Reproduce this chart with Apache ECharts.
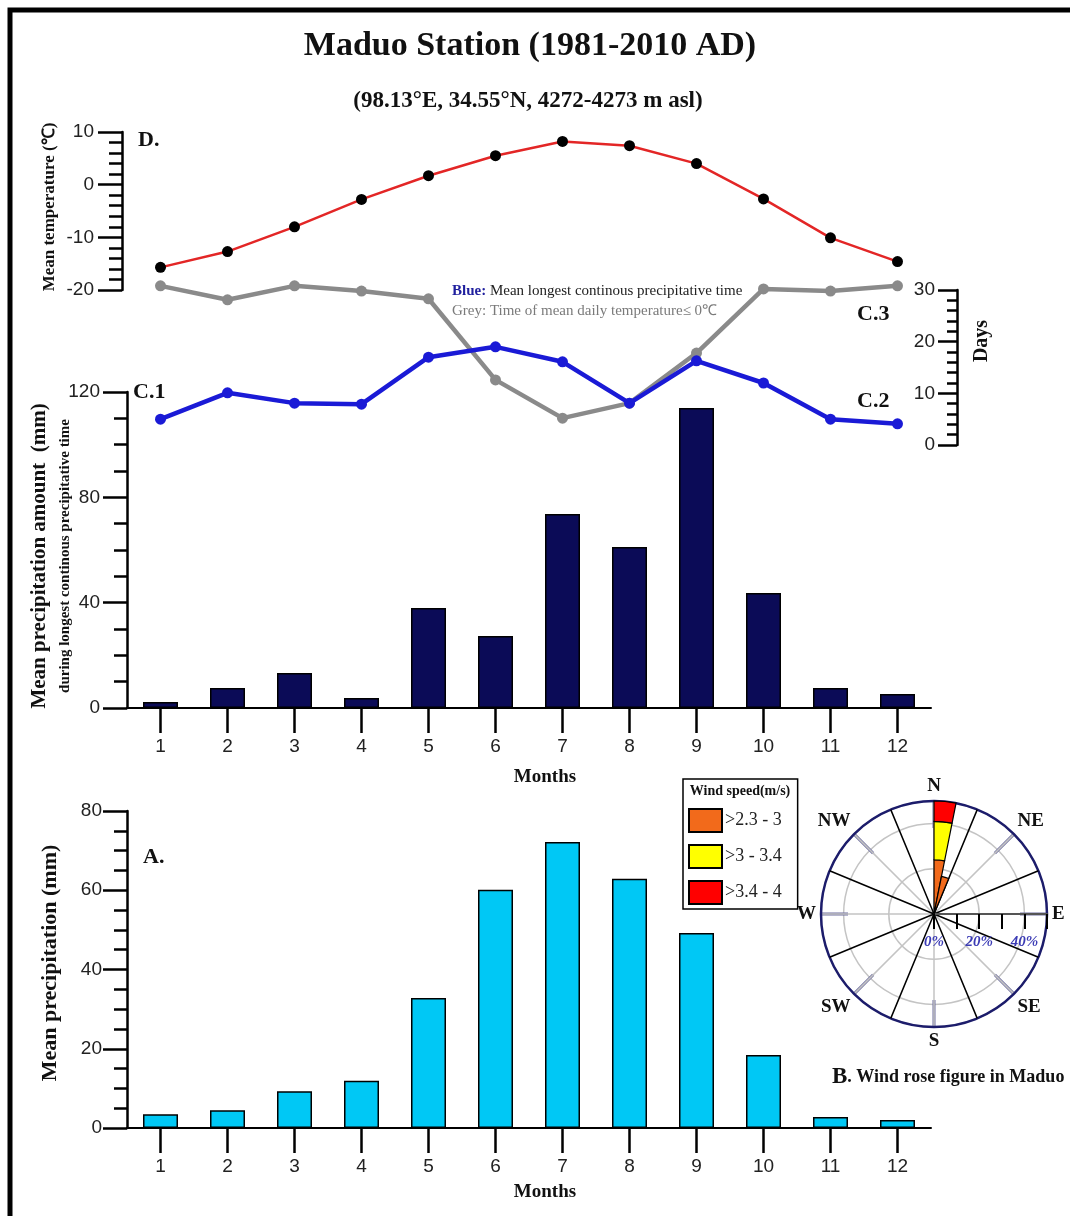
<!DOCTYPE html>
<html>
<head>
<meta charset="utf-8">
<script src="https://cdn.jsdelivr.net/npm/echarts@6/dist/echarts.min.js"></script>
<style>
html,body{margin:0;padding:0;background:#fff;}
#chart{width:1070px;height:1216px;}
</style>
</head>
<body>
<div id="chart"></div>
<script>
// ---------- DATA ----------
const months = ['1','2','3','4','5','6','7','8','9','10','11','12'];
const tempMean = [-15.7, -12.7, -8.0, -2.8, 1.7, 5.5, 8.2, 7.4, 4.0, -2.7, -10.1, -14.6];       // D (°C)
const daysBelowZero = [30.8, 28.1, 30.8, 29.8, 28.3, 12.6, 5.2, 8.1, 17.8, 30.2, 29.8, 30.8];  // C.3 grey (days)
const longestPrecipDays = [5.0, 10.1, 8.1, 7.9, 17.0, 19.0, 16.1, 8.1, 16.3, 12.0, 5.0, 4.1]; // C.2 blue (days)
const precipLongest = [2.3, 7.6, 13.3, 3.8, 38.0, 27.3, 73.7, 61.1, 113.9, 43.7, 7.6, 5.3];  // C.1 (mm)
const precipMean = [3.5, 4.5, 9.3, 11.9, 32.8, 60.1, 72.2, 62.9, 49.2, 18.4, 2.8, 2.0];      // A (mm)

const tempTicks = [-20, -10, 0, 10];
const dayTicks = [0, 10, 20, 30];
const c1Ticks = [0, 40, 80, 120];
const aTicks = [0, 20, 40, 60, 80];

// Wind rose: 32 bins of 11.25 degrees clockwise from North
const windBins = ['N','N-NNE','NNE','NNE-NE','NE','NE-ENE','ENE','ENE-E','E','E-ESE','ESE','ESE-SE','SE','SE-SSE','SSE','SSE-S',
                  'S','S-SSW','SSW','SSW-SW','SW','SW-WSW','WSW','WSW-W','W','W-WNW','WNW','WNW-NW','NW','NW-NNW','NNW','NNW-N'];
const windOrange = [24, 17, null,null,null,null,null,null,null,null,null,null,null,null,null,null,null,null,null,null,null,null,null,null,null,null,null,null,null,null,null,null];
const windYellow = [17, null,null,null,null,null,null,null,null,null,null,null,null,null,null,null,null,null,null,null,null,null,null,null,null,null,null,null,null,null,null,null];
const windRed = [9, null,null,null,null,null,null,null,null,null,null,null,null,null,null,null,null,null,null,null,null,null,null,null,null,null,null,null,null,null,null,null];
const windSpeedClasses = ['>2.3 - 3', '>3 - 3.4', '>3.4 - 4'];
const compassNames = {0:'E',45:'SE',90:'S',135:'SW',180:'W',225:'NW',270:'N',315:'NE'};
const spokeCats = ['a','b','c','d','e','f','g','h'];

// ---------- STYLE ----------
const SERIF = '"Liberation Serif","Times New Roman",serif';
const SANS = '"Liberation Sans",Arial,sans-serif';
const GL = 127, GW = 804;
const ROSE_C = [934, 914], ROSE_R = 113;

function valueY(gridIndex, min, max, interval, minorSplit, opts) {
  return Object.assign({
    type: 'value', gridIndex, min, max, interval,
    splitLine: {show: false},
    axisLine: {show: true, lineStyle: {color: '#000', width: 2.5}},
    axisTick: {show: true, length: 24, lineStyle: {color: '#000', width: 2.5}},
    minorTick: {show: true, splitNumber: minorSplit, length: 13, lineStyle: {color: '#000', width: 2.5}},
    axisLabel: {fontFamily: SANS, fontSize: 19, color: '#222', margin: 28}
  }, opts || {});
}
function catX(gridIndex, show) {
  return {
    type: 'category', gridIndex, data: months, boundaryGap: true, show: show,
    axisLine: {show: true, lineStyle: {color: '#000', width: 2}},
    axisTick: {show: true, alignWithLabel: true, length: 25, lineStyle: {color: '#000', width: 2.5}},
    axisLabel: {fontFamily: SANS, fontSize: 19, color: '#222', margin: 29},
    splitLine: {show: false}
  };
}
function gtext(x, y, text, font, opts) {
  return Object.assign({
    type: 'text', x, y, z: 100,
    style: Object.assign({text, font, fill: '#111', align: 'center', verticalAlign: 'middle'}, (opts && opts.style) || {})
  }, opts && opts.rotation !== undefined ? {rotation: opts.rotation} : {});
}

const chart = echarts.init(document.getElementById('chart'), null, {renderer: 'canvas'});

const option = {
  animation: false,
  backgroundColor: '#fff',
  grid: [
    {left: GL, top: 132, width: GW, height: 158},
    {left: GL, top: 290, width: GW, height: 155},
    {left: GL, top: 392, width: GW, height: 316},
    {left: GL, top: 811, width: GW, height: 317}
  ],
  xAxis: [catX(0, false), catX(1, false), catX(2, true), catX(3, true)],
  yAxis: [
    valueY(0, tempTicks[0], tempTicks[tempTicks.length-1], 10, 5, {offset: 5}),
    valueY(1, dayTicks[0], dayTicks[dayTicks.length-1], 10, 5, {
      position: 'right', offset: 26,
      axisTick: {show: true, inside: true, length: 19, lineStyle: {color: '#000', width: 2.5}},
      minorTick: {show: true, splitNumber: 5, length: 10, lineStyle: {color: '#000', width: 2.5}},
      axisLabel: {inside: true, fontFamily: SANS, fontSize: 19, color: '#222', margin: 22}
    }),
    valueY(2, c1Ticks[0], c1Ticks[c1Ticks.length-1], 40, 4, {axisLabel: {fontFamily: SANS, fontSize: 19, color: '#222', margin: 27}}),
    valueY(3, aTicks[0], aTicks[aTicks.length-1], 20, 4, {axisLabel: {fontFamily: SANS, fontSize: 19, color: '#222', margin: 25}})
  ],
  polar: [
    {center: ROSE_C, radius: ROSE_R},
    {center: ROSE_C, radius: ROSE_R},
    {center: ROSE_C, radius: ROSE_R}
  ],
  angleAxis: [
    {polarIndex: 0, type: 'value', min: 0, max: 360, interval: 45, startAngle: 0, clockwise: true, z: 3,
     axisLine: {show: true, lineStyle: {color: '#1c1c6b', width: 2.5}},
     axisTick: {show: true, inside: true, length: 27, lineStyle: {color: '#6f6fa0', width: 3}},
     splitLine: {show: true, lineStyle: {color: '#c4c4c4', width: 1.5}},
     axisLabel: {show: true, margin: 5, fontFamily: SERIF, fontWeight: 'bold', fontSize: 19, color: '#111',
                 formatter: v => compassNames[v] !== undefined && v !== 360 ? compassNames[v] : ''}},
    {polarIndex: 1, type: 'category', data: spokeCats, startAngle: 22.5, boundaryGap: true, z: 4,
     axisLine: {show: false}, axisTick: {show: false}, axisLabel: {show: false},
     splitLine: {show: true, lineStyle: {color: '#000', width: 1.5}}},
    {polarIndex: 2, type: 'category', data: windBins, startAngle: 90, boundaryGap: true, z: 5,
     axisLine: {show: false}, axisTick: {show: false}, axisLabel: {show: false}, splitLine: {show: false}}
  ],
  radiusAxis: [
    {polarIndex: 0, type: 'value', min: 0, max: 50, interval: 10, z: 6,
     axisLine: {show: true, lineStyle: {color: '#555', width: 2}},
     axisTick: {show: true, length: -15, lineStyle: {color: '#000', width: 2}},
     splitLine: {show: false},
     axisLabel: {show: true, margin: -36, fontFamily: SERIF, fontStyle: 'italic', fontWeight: 'bold', fontSize: 15, color: '#3b3bb5',
                 formatter: v => (v === 0 || v === 20 || v === 40) ? v + '%' : ''}},
    {polarIndex: 1, type: 'value', min: 0, max: 50, interval: 20, z: 2,
     axisLine: {show: false}, axisTick: {show: false}, axisLabel: {show: false},
     splitLine: {show: true, lineStyle: {color: '#c4c4c4', width: 1.5}}},
    {polarIndex: 2, type: 'value', min: 0, max: 50, show: false,
     axisLine: {show: false}, axisTick: {show: false}, axisLabel: {show: false}, splitLine: {show: false}}
  ],
  legend: {
    data: windSpeedClasses,
    left: 683, top: 779, orient: 'vertical',
    padding: [29, 16, 4, 5], itemGap: 11, itemWidth: 33, itemHeight: 23, icon: 'rect',
    borderColor: '#000', borderWidth: 1.5, backgroundColor: '#fff',
    itemStyle: {borderColor: '#000', borderWidth: 2},
    textStyle: {fontFamily: SERIF, fontSize: 18, color: '#222', padding: [0, 0, 0, -2]},
    selectedMode: false
  },
  series: [
    {name: 'Mean temperature', type: 'line', xAxisIndex: 0, yAxisIndex: 0, data: tempMean,
     symbol: 'circle', symbolSize: 11, itemStyle: {color: '#000'}, lineStyle: {color: '#e32626', width: 2.5}, z: 5},
    {name: 'Grey', type: 'line', xAxisIndex: 1, yAxisIndex: 1, data: daysBelowZero, clip: false,
     symbol: 'circle', symbolSize: 11, itemStyle: {color: '#8a8a8a'}, lineStyle: {color: '#8a8a8a', width: 4.5}, z: 4},
    {name: 'Blue', type: 'line', xAxisIndex: 1, yAxisIndex: 1, data: longestPrecipDays, clip: false,
     symbol: 'circle', symbolSize: 11, itemStyle: {color: '#1a1ad6'}, lineStyle: {color: '#1a1ad6', width: 4.5}, z: 5},
    {name: 'C1', type: 'bar', xAxisIndex: 2, yAxisIndex: 2, data: precipLongest, barWidth: 35,
     itemStyle: {color: '#0b0b57', borderColor: '#000', borderWidth: 1.5}},
    {name: 'A', type: 'bar', xAxisIndex: 3, yAxisIndex: 3, data: precipMean, barWidth: 35,
     itemStyle: {color: '#00c8f5', borderColor: '#000', borderWidth: 1.5}},
    {name: windSpeedClasses[0], type: 'bar', coordinateSystem: 'polar', polarIndex: 2, stack: 'wind', data: windOrange,
     barCategoryGap: '0%', z: 8, itemStyle: {color: '#f26a1b', borderColor: '#000', borderWidth: 1.2}},
    {name: windSpeedClasses[1], type: 'bar', coordinateSystem: 'polar', polarIndex: 2, stack: 'wind', data: windYellow,
     barCategoryGap: '0%', z: 8, itemStyle: {color: '#ffff00', borderColor: '#000', borderWidth: 1.2}},
    {name: windSpeedClasses[2], type: 'bar', coordinateSystem: 'polar', polarIndex: 2, stack: 'wind', data: windRed,
     barCategoryGap: '0%', z: 8, itemStyle: {color: '#ff0000', borderColor: '#000', borderWidth: 1.2}}
  ],
  graphic: [
    {type: 'rect', z: 200, shape: {x: 10, y: 10, width: 1100, height: 1250},
     style: {fill: null, stroke: '#000', lineWidth: 5}},
    gtext(530, 46, 'Maduo Station (1981-2010 AD)', 'bold 34px ' + SERIF),
    gtext(528, 101, '(98.13°E, 34.55°N, 4272-4273 m asl)', 'bold 23px ' + SERIF),
    gtext(50, 207, 'Mean temperature (℃)', 'bold 17px ' + SERIF, {rotation: Math.PI/2}),
    gtext(40, 556, 'Mean precipitation amount  (mm)', 'bold 21px ' + SERIF, {rotation: Math.PI/2}),
    gtext(65, 556, 'during longest continous precipitative time', 'bold 15px ' + SERIF, {rotation: Math.PI/2}),
    gtext(50, 963, 'Mean precipitation (mm)', 'bold 22px ' + SERIF, {rotation: Math.PI/2}),
    gtext(982, 341, 'Days', 'bold 20px ' + SERIF, {rotation: Math.PI/2}),
    gtext(545, 777, 'Months', 'bold 19px ' + SERIF),
    gtext(545, 1192, 'Months', 'bold 19px ' + SERIF),
    gtext(138, 140, 'D.', 'bold 22px ' + SERIF, {style: {align: 'left'}}),
    gtext(133, 392, 'C.1', 'bold 22px ' + SERIF, {style: {align: 'left'}}),
    gtext(857, 314, 'C.3', 'bold 22px ' + SERIF, {style: {align: 'left'}}),
    gtext(857, 401, 'C.2', 'bold 22px ' + SERIF, {style: {align: 'left'}}),
    gtext(143, 857, 'A.', 'bold 22px ' + SERIF, {style: {align: 'left'}}),
    {type: 'text', x: 452, y: 291, z: 100, style: {
      text: '{b|Blue:} Mean longest continous precipitative time', font: '15px ' + SERIF, fill: '#222',
      align: 'left', verticalAlign: 'middle',
      rich: {b: {fontWeight: 'bold', fill: '#1f1f9e', color: '#1f1f9e', fontFamily: SERIF, fontSize: 15}}}},
    {type: 'text', x: 452, y: 311, z: 100, style: {
      text: 'Grey: Time of mean daily temperature≤ 0℃', font: '15px ' + SERIF, fill: '#7a7a7a',
      align: 'left', verticalAlign: 'middle'}},
    gtext(740, 791, 'Wind speed(m/s)', 'bold 14px ' + SERIF, {}),
    {type: 'text', x: 832, y: 1077, z: 100, style: {
      text: '{b|B}. Wind rose figure in Maduo', font: 'bold 18px ' + SERIF, fill: '#111',
      align: 'left', verticalAlign: 'middle',
      rich: {b: {fontWeight: 'bold', fontFamily: SERIF, fontSize: 23, fill: '#111', color: '#111'}}}}
  ]
};
chart.setOption(option);
</script>
</body>
</html>
